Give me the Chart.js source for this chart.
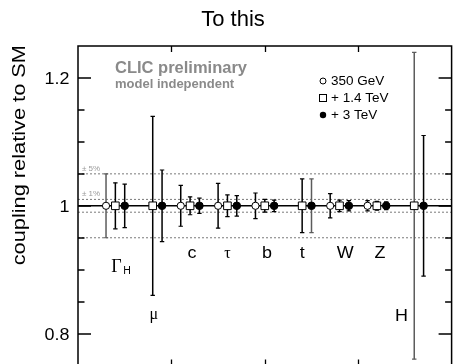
<!DOCTYPE html>
<html>
<head>
<meta charset="utf-8">
<script src="https://cdn.jsdelivr.net/npm/chart.js@4.4.1/dist/chart.umd.min.js"></script>
<style>
  html, body { margin: 0; padding: 0; background: #fff; overflow: hidden; }
  #couplings { position: absolute; left: 0; top: 0; }
</style>
</head>
<body>
<canvas id="couplings" width="458" height="372"></canvas>
<script>
// couplings, left to right (underscore = subscript)
const categories = ['Γ_H', 'μ', 'c', 'τ', 'b', 't', 'W', 'Z', 'H'];

// relative uncertainty at each stage, null = not measured
const err350  = [0.050, null,  0.032, 0.035, 0.020, null,  0.019, 0.008, null];
const err1400 = [0.036, 0.140, 0.014, 0.017, 0.010, 0.042, 0.009, 0.007, 0.240];
const err3000 = [0.034, 0.056, 0.012, 0.016, 0.009, 0.042, 0.008, 0.006, 0.110];
const stageNames = ['350 GeV', '+ 1.4 TeV', '+ 3 TeV'];

const smValue = 1;            // all couplings shown at the SM value
const bands = [0.05, 0.01];   // +-5% and +-1% guide lines
const yMajor = [0.8, 1.0, 1.2];
const yTickLabels = ['0.8', '1', '1.2'];
const xTicks = [1.5, 4, 6.5];

// layout / style, kept apart from the data
const stageDx = [-0.25, 0, 0.25];
const grayBars = [[0], [8], [5]];   // category indices drawn with the grey bar
const labelDx = [0.03, 0.03, 0.05, 0, 0.06, 0, 0.15, 0.08, -0.34];
const labelAt = [0.897, 0.823, 0.919, 0.919, 0.919, 0.919, 0.919, 0.919, 0.820];

const SANS = '"Liberation Sans", Arial, Helvetica, sans-serif';
const SERIF = '"Liberation Serif", "Times New Roman", serif';

const errs = [err350, err1400, err3000];

function markerPoints(e, dx) {
  return e.map((v, i) => v == null ? null : { x: i + dx, y: smValue }).filter(Boolean);
}
function barPoints(e, dx) {
  return e.map((v, i) => v == null ? null : { x: i + dx, y: [smValue - v, smValue + v] }).filter(Boolean);
}
function capPoints(e, dx) {
  return e.flatMap((v, i) => v == null ? [] : [{ x: i + dx, y: smValue - v }, { x: i + dx, y: smValue + v }]);
}

const markerStyle = [
  { pointStyle: 'circle', pointRadius: 3.6, pointBackgroundColor: '#fff' },
  { pointStyle: 'rect', pointRadius: 5.4, pointBackgroundColor: '#fff' },
  { pointStyle: 'circle', pointRadius: 3.8, pointBackgroundColor: '#000' }
];

const datasets = [];

// guide lines
bands.forEach(b => {
  [smValue + b, smValue - b].forEach(v => {
    datasets.push({
      type: 'line', data: [{ x: -1, y: v }, { x: 9, y: v }],
      borderColor: '#7a7a7a', borderWidth: 1, borderDash: [2, 2],
      pointRadius: 0, order: 5
    });
  });
});
datasets.push({
  type: 'line', data: [{ x: -1, y: smValue }, { x: 9, y: smValue }],
  borderColor: '#000', borderWidth: 1.5, pointRadius: 0, order: 4
});

errs.forEach((e, s) => {
  const gray = grayBars[s];
  const isGray = c => c.raw && gray.includes(Math.round(c.raw.x));
  datasets.push({
    type: 'bar', data: barPoints(e, stageDx[s]),
    backgroundColor: c => isGray(c) ? '#5c5c5c' : '#000',
    barThickness: 1.5, grouped: false, borderWidth: 0, inflateAmount: 0,
    order: 3
  });
  datasets.push({
    type: 'scatter', data: capPoints(e, stageDx[s]),
    pointStyle: 'line', pointRadius: 2.2, borderWidth: 1.2,
    pointBorderColor: c => isGray(c) ? '#5c5c5c' : '#000',
    order: 2
  });
  datasets.push(Object.assign({
    type: 'scatter', label: stageNames[s], data: markerPoints(e, stageDx[s]),
    pointBorderColor: '#000', pointBorderWidth: 1, order: 1
  }, markerStyle[s]));
});

function text(ctx, s, x, y, font, opts) {
  opts = opts || {};
  ctx.save();
  ctx.translate(x, y);
  if (opts.rotate) ctx.rotate(opts.rotate);
  ctx.scale(opts.sx || 1, 1);
  ctx.font = font;
  ctx.fillStyle = opts.color || '#000';
  ctx.textAlign = opts.align || 'left';
  ctx.textBaseline = 'alphabetic';
  ctx.fillText(s, 0, 0);
  ctx.restore();
}

const frameAndText = {
  id: 'frameAndText',
  afterDraw(chart) {
    const { ctx, chartArea: a, scales: { x, y } } = chart;
    ctx.save();

    // frame
    ctx.strokeStyle = '#000';
    ctx.lineWidth = 1.5;
    ctx.strokeRect(a.left, a.top, a.right - a.left, a.bottom - a.top);

    // inward ticks
    ctx.lineWidth = 1.3;
    ctx.beginPath();
    for (let k = 16; k <= 24; k++) {
      const v = k * 0.05;
      const py = Math.round(y.getPixelForValue(v));
      const len = yMajor.some(m => Math.abs(m - v) < 1e-6) ? 13 : 6.5;
      ctx.moveTo(a.left, py); ctx.lineTo(a.left + len, py);
      ctx.moveTo(a.right, py); ctx.lineTo(a.right - len, py);
    }
    xTicks.forEach(v => {
      const px = Math.round(x.getPixelForValue(v)) + 0.5;
      ctx.moveTo(px, a.top); ctx.lineTo(px, a.top + 6);
      ctx.moveTo(px, a.bottom); ctx.lineTo(px, a.bottom - 6);
    });
    ctx.stroke();

    // y tick labels
    yMajor.forEach((v, i) => {
      text(ctx, yTickLabels[i], 69.5, y.getPixelForValue(v) + 6, '16px ' + SANS, { align: 'right', sx: 1.12 });
    });

    // axis title, aligned to the top of the frame
    text(ctx, 'coupling relative to SM', 25, a.top - 1, '18px ' + SANS, { rotate: -Math.PI / 2, align: 'right', sx: 1.21 });

    // title
    text(ctx, 'To this', 233, 26, '22px ' + SANS, { align: 'center' });

    // band labels
    text(ctx, '± 5%', 82, y.getPixelForValue(smValue + bands[0]) - 3, '8px ' + SANS, { color: '#9a9a9a' });
    text(ctx, '± 1%', 82, y.getPixelForValue(smValue + bands[1]) - 3, '8px ' + SANS, { color: '#9a9a9a' });

    // CLIC tag
    text(ctx, 'CLIC preliminary', 115, 72.5, 'bold 16.5px ' + SANS, { color: '#8a8a8a' });
    text(ctx, 'model independent', 115, 88, 'bold 13px ' + SANS, { color: '#8a8a8a' });

    // legend
    const lx = 323;
    const ly = [81, 98, 115];
    ctx.lineWidth = 1;
    ctx.strokeStyle = '#000';
    ctx.beginPath(); ctx.arc(lx, ly[0], 3, 0, Math.PI * 2); ctx.fillStyle = '#fff'; ctx.fill(); ctx.stroke();
    ctx.strokeRect(lx - 3.5, ly[1] - 3.5, 7, 7);
    ctx.beginPath(); ctx.arc(lx, ly[2], 3.2, 0, Math.PI * 2); ctx.fillStyle = '#000'; ctx.fill();
    stageNames.forEach((n, i) => {
      text(ctx, n, 331, ly[i] + 4.3, '12.5px ' + SANS, { sx: 1.08 });
    });

    // category labels
    categories.forEach((c, i) => {
      const px = x.getPixelForValue(i + labelDx[i]);
      const py = y.getPixelForValue(labelAt[i]);
      const [main, sub] = c.split('_');
      const greek = /[\u0370-\u03ff]/.test(main);
      const font = greek ? (sub ? '18px ' : '16px ') + SERIF : '16px ' + SANS;
      text(ctx, main, px, py, font, { align: 'center', sx: greek ? 1 : 1.12 });
      if (sub) {
        ctx.font = font;
        const w = ctx.measureText(main).width;
        text(ctx, sub, px + w / 2 + 1.5, py + 2.5, '10px ' + SANS, { sx: 1.05 });
      }
    });

    ctx.restore();
  }
};

new Chart(document.getElementById('couplings'), {
  type: 'scatter',
  data: { datasets },
  options: {
    responsive: false,
    animation: false,
    devicePixelRatio: 1,
    events: [],
    layout: { padding: { left: 78, top: 46, right: 2.5, bottom: 6 } },
    scales: {
      x: { type: 'linear', min: -1, max: 9, offset: false, display: false },
      y: { type: 'linear', min: 0.75, max: 1.25, display: false }
    },
    plugins: {
      legend: { display: false },
      tooltip: { enabled: false }
    }
  },
  plugins: [frameAndText]
});
</script>
</body>
</html>
